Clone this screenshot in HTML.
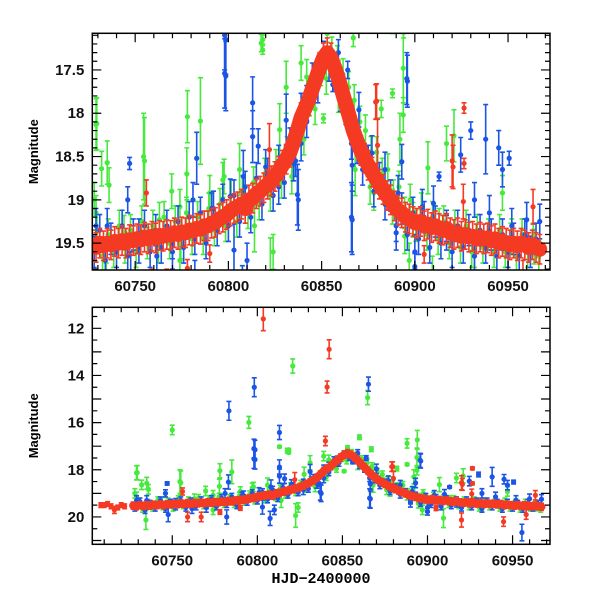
<!DOCTYPE html>
<html><head><meta charset="utf-8">
<style>
html,body{margin:0;padding:0;background:#fff;}
svg{display:block;font-family:"Liberation Sans",Arial,sans-serif;}
.tl{font-size:15px;font-weight:bold;fill:#111;}
</style></head>
<body>
<svg id="chart" width="600" height="600" viewBox="0 0 600 600" xmlns="http://www.w3.org/2000/svg">
<defs>
<clipPath id="clipTop"><rect x="92.3" y="33.3" width="457.7" height="236.7"/></clipPath>
<clipPath id="clipBot"><rect x="92.3" y="307.3" width="457.7" height="237"/></clipPath>
</defs>
</svg>
<script>
// ---- data ----
const redDays = [60727,60729,60731,60733,60735,60737,60739,60741,60743,60745,60747,60749,60751,60753,60755,60757,60759,60761,60763,60765,60767,60769,60771,60773,60775,60777,60779,60781,60783,60785,60787,60789,60791,60793,60795,60797,60799,60801,60803,60805,60807,60809,60811,60813,60815,60817,60819,60821,60823,60825,60827,60829,60831,60833,60835,60837,60839,60841,60843,60845,60847,60849,60851,60853,60855,60857,60859,60861,60863,60865,60867,60869,60871,60873,60875,60877,60879,60881,60883,60885,60887,60889,60891,60893,60895,60897,60899,60901,60903,60905,60907,60909,60911,60913,60915,60917,60919,60921,60923,60925,60927,60929,60931,60933,60935,60937,60939,60941,60943,60945,60947,60949,60951,60953,60955,60957,60959,60961,60963,60965,60967];
const redMags = [19.52,19.55,19.5,19.53,19.5,19.52,19.48,19.5,19.47,19.5,19.46,19.47,19.45,19.46,19.43,19.45,19.42,19.44,19.41,19.42,19.4,19.41,19.38,19.4,19.37,19.38,19.35,19.36,19.33,19.34,19.3,19.3,19.27,19.26,19.22,19.2,19.17,19.13,19.1,19.08,19.05,19.1,19.0,18.98,18.93,18.9,18.86,18.82,18.78,18.73,18.67,18.6,18.53,18.45,18.33,18.2,18.05,17.95,17.85,17.72,17.6,17.47,17.36,17.3,17.36,17.47,17.6,17.75,17.9,18.05,18.2,18.32,18.43,18.52,18.6,18.68,18.75,18.82,18.88,18.95,19.0,19.07,19.12,19.15,19.2,19.22,19.25,19.27,19.25,19.3,19.28,19.32,19.3,19.33,19.35,19.33,19.38,19.4,19.38,19.42,19.4,19.43,19.42,19.45,19.43,19.45,19.44,19.47,19.45,19.5,19.48,19.5,19.52,19.5,19.53,19.5,19.52,19.55,19.52,19.55,19.57];
const redExtraDays = [60708,60710,60712,60714,60716,60718,60720,60722,60926.4,60926.4,60879.5,60880,60756,60822,60963.4,60926,60920.5,60790,60778,60905,60803.5,60842.2,60841,60840,60879,60920,60759,60767,60920,60944.7,60958];
const redExtraMags = [19.5,19.5,19.45,19.55,19.7,19.6,19.5,19.55,17.94,18.58,17.86,18.37,18.92,18.42,19.08,19.02,18.62,19.62,19.79,19.63,11.6,12.89,14.49,16.78,17.87,18.55,20.0,20.0,20.13,20.2,19.9];
const redExtraErr = [0.1,0.1,0.1,0.1,0.15,0.1,0.1,0.1,0.06,0.06,0.2,0.3,0.15,0.3,0.2,0.2,0.25,0.1,0.1,0.1,0.5,0.4,0.25,0.2,0.2,0.3,0.2,0.2,0.3,0.2,0.2];
const blueBandDays = [60728,60731,60734,60737,60740,60743,60746,60749,60752,60755,60758,60761,60764,60767,60770,60773,60776,60779,60782,60785,60788,60791,60794,60797,60800,60803,60806,60809,60812,60815,60818,60821,60824,60827,60830,60833,60836,60839,60842,60845,60848,60851,60854,60857,60860,60863,60866,60869,60872,60875,60878,60881,60884,60887,60890,60893,60896,60899,60902,60905,60908,60911,60914,60917,60920,60923,60926,60929,60932,60935,60938,60941,60944,60947,60950,60953,60956,60959,60962,60965];
const blueBandMags = [19.6,19.35,19.7,19.45,19.6,19.3,19.65,19.4,19.55,19.3,19.6,19.35,19.55,19.3,19.5,19.25,19.55,19.2,19.45,19.15,19.5,19.1,19.35,19.0,19.3,18.95,19.25,18.85,19.2,18.75,19.05,18.7,18.95,18.55,18.8,18.35,18.55,17.95,18.1,17.6,17.7,17.35,17.45,17.55,17.8,17.95,18.35,18.4,18.65,18.55,18.9,18.75,19.05,18.95,19.3,19.1,19.4,19.15,19.45,19.2,19.55,19.25,19.5,19.3,19.6,19.3,19.55,19.35,19.65,19.35,19.55,19.4,19.65,19.4,19.6,19.45,19.65,19.4,19.6,19.45];
const greenBandDays = [60729.5,60732.5,60735.5,60738.5,60741.5,60744.5,60747.5,60750.5,60753.5,60756.5,60759.5,60762.5,60765.5,60768.5,60771.5,60774.5,60777.5,60780.5,60783.5,60786.5,60789.5,60792.5,60795.5,60798.5,60801.5,60804.5,60807.5,60810.5,60813.5,60816.5,60819.5,60822.5,60825.5,60828.5,60831.5,60834.5,60837.5,60840.5,60843.5,60846.5,60849.5,60852.5,60855.5,60858.5,60861.5,60864.5,60867.5,60870.5,60873.5,60876.5,60879.5,60882.5,60885.5,60888.5,60891.5,60894.5,60897.5,60900.5,60903.5,60906.5,60909.5,60912.5,60915.5,60918.5,60921.5,60924.5,60927.5,60930.5,60933.5,60936.5,60939.5,60942.5,60945.5,60948.5,60951.5,60954.5,60957.5,60960.5,60963.5,60966.5];
const greenBandMags = [19.35,19.65,19.4,19.6,19.3,19.55,19.35,19.6,19.25,19.5,19.3,19.55,19.2,19.5,19.25,19.5,19.15,19.45,19.2,19.45,19.1,19.35,19.05,19.3,18.95,19.25,18.9,19.15,18.8,19.05,18.7,18.95,18.6,18.8,18.45,18.6,18.2,18.3,17.85,17.95,17.5,17.6,17.3,17.4,17.55,17.7,17.85,18.1,18.2,18.45,18.45,18.7,18.65,18.95,18.85,19.15,19.0,19.3,19.1,19.4,19.2,19.45,19.25,19.5,19.3,19.55,19.3,19.6,19.35,19.55,19.4,19.6,19.35,19.6,19.45,19.65,19.4,19.6,19.45,19.65];
const blueDays = [60747,60798.6,60798.6,60813,60816,60813,60783,60837.5,60839,60866.4,60866.4,60856,60864,60896,60930,60938,60945,60950.6,60947,60913,60924.6,60932,60893,60890,60900,60904,60960,60967,60729,60735,60746,60761.6,60781,60792,60801,60808,60820,60827,60831,60835,60842,60847,60859,60870,60877,60884,60891,60910,60917,60940,60952,60900,60810,60803,60770,60752,60783.3,60798.2,60798,60798,60813,60865.3,60955.5,60807.5,60782,60747.6,60866,60837,60895.7];
const blueMags = [18.58,17.15,17.57,18.27,18.38,17.88,18.52,19.0,18.35,18.6,19.23,17.67,17.5,17.63,18.2,18.3,18.4,18.52,18.65,18.73,18.48,19.0,18.56,19.38,19.6,19.08,19.23,19.25,19.3,19.3,19.0,19.65,19.0,19.1,18.96,18.73,18.62,18.85,18.08,18.58,17.88,17.62,17.3,17.96,18.46,18.65,18.92,19.04,19.38,19.15,19.3,19.77,19.7,19.58,19.6,19.42,15.5,14.5,17.1,17.54,16.42,14.37,20.66,20.06,20.0,19.9,19.2,18.94,17.6];
const blueErr = [0.07,0.4,0.4,0.3,0.2,0.3,0.3,0.35,0.2,0.3,0.4,0.08,0.1,0.3,0.1,0.4,0.2,0.08,0.2,0.05,0.2,0.2,0.2,0.2,0.2,0.2,0.2,0.2,0.2,0.2,0.15,0.2,0.2,0.2,0.2,0.3,0.2,0.2,0.3,0.2,0.2,0.2,0.15,0.2,0.2,0.2,0.2,0.2,0.2,0.2,0.2,0.15,0.2,0.3,0.2,0.2,0.4,0.4,0.4,0.4,0.3,0.3,0.35,0.3,0.3,0.3,0.4,0.35,0.3];
const greenDays = [60729,60732,60735,60736,60729,60755,60777.7,60785,60769.6,60797.7,60818.4,60818.4,60839,60851,60853,60867,60893.8,60888,60882,60893.8,60892,60917,60921,60907,60876,60878,60868,60834,60831,60827.5,60806,60797,60790,60774,60763,60744,60897,60899,60932,60947,60952,60964,60913,60888,60814,60824,60774,60728,60894.6,60859,60842,60750,60795,60820.8,60864.8,60813,60817.6,60860,60894,60888,60822.5,60734.5,60729.4,60778,60754.5,60909.4];
const greenMags = [18.13,18.64,18.57,18.83,19.15,18.55,18.7,18.09,18.9,18.73,17.15,17.27,17.42,18.06,17.08,17.13,17.48,17.77,17.95,18.02,18.3,18.35,18.26,18.63,18.85,18.92,18.65,18.73,17.7,18.19,18.65,18.77,18.92,19.08,19.23,19.38,19.7,19.23,19.58,18.92,19.42,19.54,19.3,19.08,19.3,19.6,19.7,19.0,19.42,17.69,17.58,16.31,15.99,13.6,14.94,17.02,17.19,16.62,16.73,16.88,19.94,20.13,18.12,18.04,18.5,20.05];
const greenErr = [0.3,0.2,0.25,0.2,0.2,0.5,0.3,0.5,0.2,0.2,0.05,0.05,0.2,0.05,0.1,0.1,0.4,0.05,0.1,0.2,0.3,0.2,0.3,0.3,0.2,0.2,0.3,0.2,0.3,0.3,0.3,0.2,0.2,0.2,0.2,0.2,0.2,0.2,0.2,0.2,0.2,0.2,0.2,0.2,0.3,0.2,0.2,0.2,0.2,0.3,0.2,0.2,0.25,0.3,0.3,0.05,0.1,0.1,0.4,0.2,0.5,0.4,0.3,0.3,0.5,0.4];
const topXTicks = [60750,60800,60850,60900,60950];
const topYTicks = [17.5,18,18.5,19,19.5];
const botXTicks = [60750,60800,60850,60900,60950];
const botYTicks = [12,14,16,18,20];

const RED="#f53a24", BLUE="#1b55e6", GREEN="#46ea3c";
const NS="http://www.w3.org/2000/svg";
const svg=document.getElementById('chart');
function mk(tag,attrs,parent){const e=document.createElementNS(NS,tag);for(const k in attrs)e.setAttribute(k,attrs[k]);(parent||svg).appendChild(e);return e;}

const panels=[
 {name:'top',x0:92.3,x1:550,y0:33.3,y1:270,dmin:60727,dmax:60972.5,mmin:17.077,mmax:19.81,clip:'clipTop',xt:topXTicks,yt:topYTicks,xminor:10,yminor:0.1,lw:15,r:2.6,eb:0.17,be:0.18},
 {name:'bottom',x0:92.3,x1:550,y0:307.3,y1:544.3,dmin:60703,dmax:60972,mmin:11.11,mmax:21.16,clip:'clipBot',xt:botXTicks,yt:botYTicks,xminor:10,yminor:0.5,lw:8,r:2.6,eb:0.15,be:0.15}
];

panels.forEach(p=>{
 const X=d=>p.x0+(d-p.dmin)/(p.dmax-p.dmin)*(p.x1-p.x0);
 const Y=m=>p.y0+(m-p.mmin)/(p.mmax-p.mmin)*(p.y1-p.y0);
 const g=mk('g',{'clip-path':'url(#'+p.clip+')'});
 
 
 function series(days,mags,errs,col,name,defErr){
  const sg=mk('g',{},g);
  
  
  days.forEach((d,i)=>{
   const e=errs?errs[i]:defErr;
   const x=X(d),y=Y(mags[i]),ya=Y(mags[i]-e),yb=Y(mags[i]+e);
   const pt=mk('g',{},sg);
   
   
   mk('path',{d:`M${x},${ya}V${yb}M${x-2.5},${ya}H${x+2.5}M${x-2.5},${yb}H${x+2.5}`,stroke:col,'stroke-width':1.6,fill:'none'},pt);
   mk('circle',{cx:x,cy:y,r:p.r,fill:col},pt);
  });
 }
 series(greenDays,greenMags,greenErr,GREEN,'green');
 series(greenBandDays,greenBandMags,null,GREEN,'green-band',p.be);
 series(blueDays,blueMags,blueErr,BLUE,'blue');
 series(blueBandDays,blueBandMags,null,BLUE,'blue-band',p.be);
 const band=mk('polyline',{points:redDays.map((d,i)=>X(d)+','+Y(redMags[i])).join(' '),fill:'none',stroke:RED,'stroke-width':p.lw,'stroke-linejoin':'round','stroke-linecap':'round'},g);
 
 
 series(redDays,redMags,null,RED,'red',p.eb);
 series(redExtraDays,redExtraMags,redExtraErr,RED,'red-extra');
 const fr=mk('rect',{x:p.x0,y:p.y0,width:p.x1-p.x0,height:p.y1-p.y0,fill:'none',stroke:'#000','stroke-width':1.5});
 
 
 let tp='';
 for(let d=Math.ceil(p.dmin/p.xminor)*p.xminor;d<=p.dmax;d+=p.xminor){
  const x=X(d),L=(d%50===0)?9:5;
  tp+=`M${x},${p.y1}v${-L}M${x},${p.y0}v${L}`;
 }
 const ys=Math.ceil(p.mmin/p.yminor-1e-6);
 for(let k=ys;k*p.yminor<=p.mmax;k++){
  const m=k*p.yminor,y=Y(m);
  const major=p.yt.some(t=>Math.abs(t-m)<1e-6)||(p.name==='bottom'&&Math.abs(m-Math.round(m))<1e-6);
  const L=major?9:5;
  tp+=`M${p.x0},${y}h${L}M${p.x1},${y}h${-L}`;
 }
 const tk=mk('path',{d:tp,stroke:'#000','stroke-width':1.2,fill:'none'});
 
 
 p.xt.forEach(t=>{
  const tx=mk('text',{x:X(t),y:p.y1+21,'text-anchor':'middle',class:'tl'});
  tx.textContent=t;
  
  
 });
 p.yt.forEach(t=>{
  const tx=mk('text',{x:p.x0-8,y:Y(t)+5,'text-anchor':'end',class:'tl'});
  tx.textContent=t;
  
  
 });
 const yl=mk('text',{x:0,y:0,transform:`translate(38,${(p.y0+p.y1)/2}) rotate(-90)`,'text-anchor':'middle',style:'font-size:13px;font-weight:bold'});
 yl.textContent='Magnitude';
 
 
});
const xl=mk('text',{x:321,y:583,'text-anchor':'middle',style:'font-size:15px;font-weight:bold;font-family:\"Liberation Mono\",monospace'});
xl.textContent='HJD−2400000';


</script>
</body></html>
